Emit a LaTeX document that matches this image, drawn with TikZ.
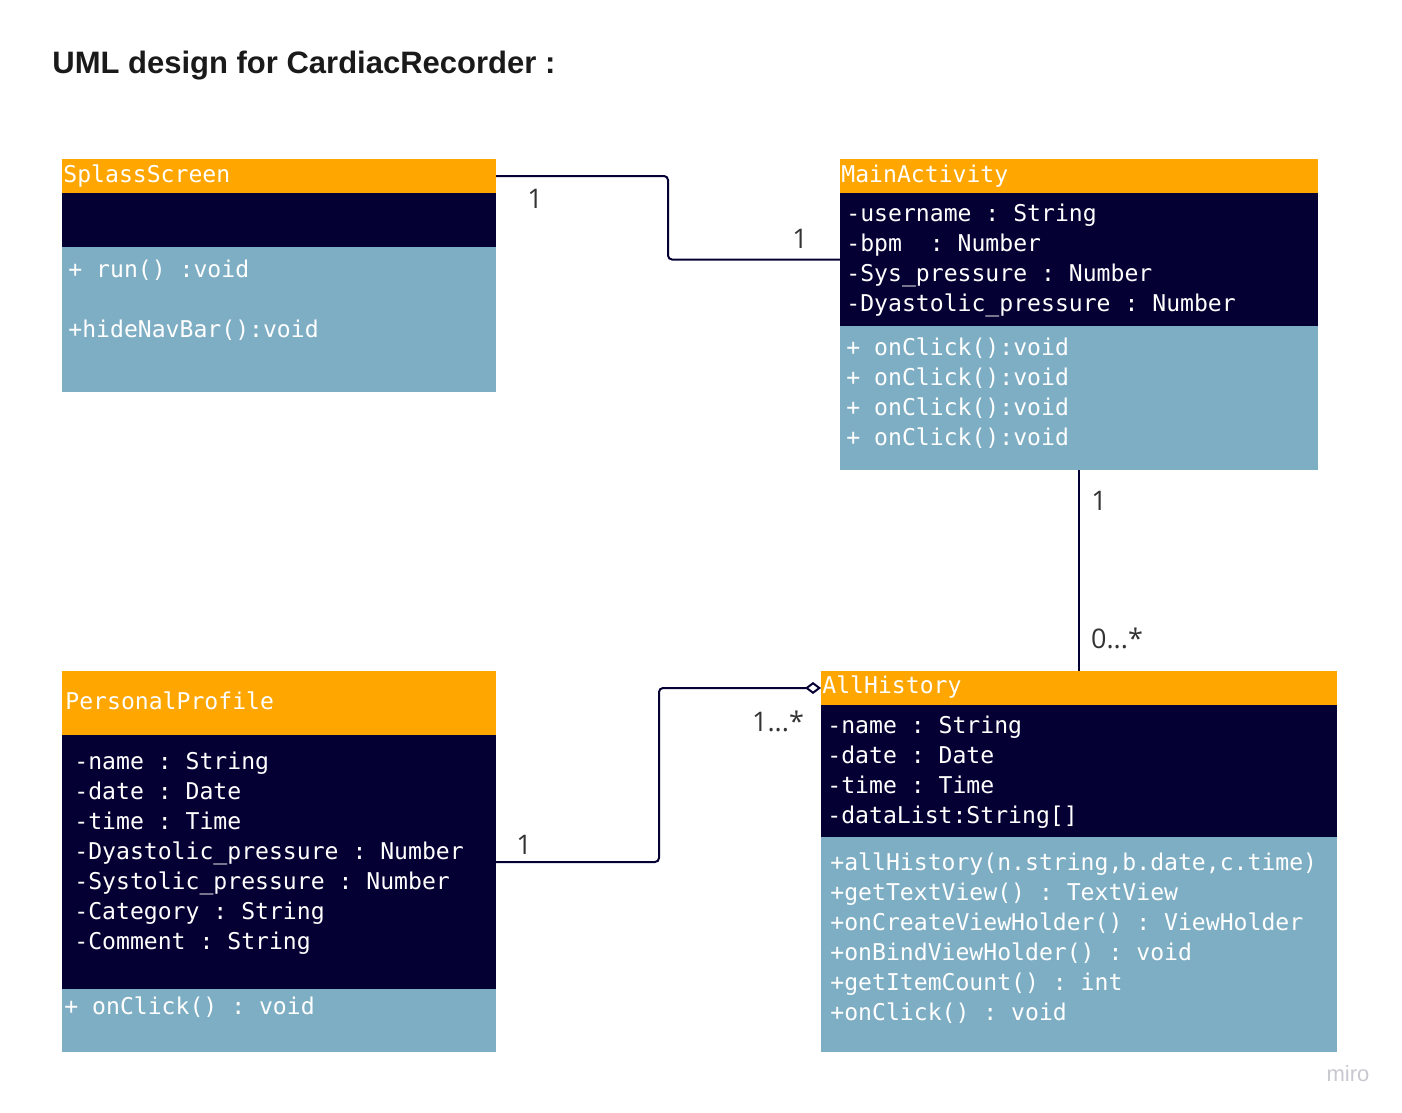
\documentclass[tikz,border=0pt]{standalone}
\usepackage{fontspec}
\setmainfont{Liberation Sans}
\setmonofont{DejaVu Sans Mono}
\newfontfamily\multfont{Open Sans}
\usetikzlibrary{positioning,arrows.meta}
\definecolor{hdrorange}{RGB}{255,166,0}
\definecolor{navy}{RGB}{5,0,51}
\definecolor{paleblue}{RGB}{126,174,196}
\definecolor{multgray}{RGB}{51,51,51}
\tikzset{
  part/.style={draw=none,inner sep=0pt,outer sep=0pt,anchor=north west},
  hdr/.style={part,fill=hdrorange},
  attrbox/.style={part,fill=navy},
  opsbox/.style={part,fill=paleblue},
  mono/.style={inner sep=0pt,text=white,align=left,font=\ttfamily\fontsize{11.55}{15}\selectfont},
  mult/.style={inner sep=0pt,text=multgray,font=\multfont\fontsize{13.5}{16}\selectfont},
  conn/.style={draw=navy,line width=1pt,rounded corners=2pt}
}
\begin{document}
\begin{tikzpicture}[x=0.5pt,y=0.5pt,yscale=-1,xscale=1]
    \path[use as bounding box] (0,0) rectangle (1402,1113);

    % Title
    \node[anchor=west,inner sep=0pt,text={rgb,255:red,26;green,26;blue,26},font=\bfseries\fontsize{15.5}{18}\selectfont] (title) at (52,66) {UML design for CardiacRecorder :};

    %Shape: Class SplassScreen
    \node[hdr,minimum width=217pt,minimum height=17pt] (ssHdr) at (62,159) {};
    \node[attrbox,minimum width=217pt,minimum height=27pt,below=0pt of ssHdr] (ssAttr) {};
    \node[opsbox,minimum width=217pt,minimum height=72.5pt,below=0pt of ssAttr] (ssOps) {};
    % Text Node
    \node[mono,anchor=west] (ssName) at (63,176) {SplassScreen};
    \node[mono,anchor=north west] (ssOpsTxt) at (68,260) {+ run() :void\\[15pt]+hideNavBar():void};

    %Shape: Class MainActivity
    \node[hdr,minimum width=239pt,minimum height=17pt] (maHdr) at (840,159) {};
    \node[attrbox,minimum width=239pt,minimum height=66.5pt,below=0pt of maHdr] (maAttr) {};
    \node[opsbox,minimum width=239pt,minimum height=72pt,below=0pt of maAttr] (maOps) {};
    % Text Node
    \node[mono,anchor=west] (maName) at (841,176) {MainActivity};
    \node[mono,anchor=north west] (maAttrTxt) at (846,204) {-username : String\\-bpm~ : Number\\-Sys\_pressure : Number\\-Dyastolic\_pressure : Number};
    \node[mono,anchor=north west] (maOpsTxt) at (846,337) {+ onClick():void\\+ onClick():void\\+ onClick():void\\+ onClick():void};

    %Shape: Class PersonalProfile
    \node[hdr,minimum width=217pt,minimum height=32pt] (ppHdr) at (62,671) {};
    \node[attrbox,minimum width=217pt,minimum height=127pt,below=0pt of ppHdr] (ppAttr) {};
    \node[opsbox,minimum width=217pt,minimum height=31.5pt,below=0pt of ppAttr] (ppOps) {};
    % Text Node
    \node[mono,anchor=west] (ppName) at (65,701) {PersonalProfile};
    \node[mono,anchor=north west] (ppAttrTxt) at (74,752) {-name : String\\-date : Date\\-time : Time\\-Dyastolic\_pressure : Number\\-Systolic\_pressure : Number\\-Category : String\\-Comment : String};
    \node[mono,anchor=north west] (ppOpsTxt) at (64,996) {+ onClick() : void};

    %Shape: Class AllHistory
    \node[hdr,minimum width=258pt,minimum height=17pt] (ahHdr) at (821,671) {};
    \node[attrbox,minimum width=258pt,minimum height=66pt,below=0pt of ahHdr] (ahAttr) {};
    \node[opsbox,minimum width=258pt,minimum height=107.5pt,below=0pt of ahAttr] (ahOps) {};
    % Text Node
    \node[mono,anchor=west] (ahName) at (822,687) {AllHistory};
    \node[mono,anchor=north west] (ahAttrTxt) at (827,716) {-name : String\\-date : Date\\-time : Time\\-dataList:String[]};
    \node[mono,anchor=north west] (ahOpsTxt) at (830,852) {+allHistory(n.string,b.date,c.time)\\+getTextView() : TextView\\+onCreateViewHolder() : ViewHolder\\+onBindViewHolder() : void\\+getItemCount() : int\\+onClick() : void};

    %Connectors
    \draw[conn] (ssHdr.east) -- ++(172,0) |- (maAttr.west);
    \draw[conn] (maOps.south) -- (maOps.south |- ahHdr.north);
    \draw[conn,-{Diamond[open,length=8pt,width=6pt,line width=1pt,fill=white]}] (ppAttr.east) -- ++(163,0) |- (ahHdr.west);

    % Multiplicities
    \node[mult] (mSsA) at (535,199) {1};
    \node[mult] (mSsB) at (800,239) {1};
    \node[mult] (mMaA) at (1099,501) {1};
    \node[mult] (mMaB) at (1117,638) {0...*};
    \node[mult] (mPpA) at (524,845) {1};
    \node[mult] (mPpB) at (778,721) {1...*};

    % miro mark
    \node[inner sep=0pt,text={rgb,255:red,200;green,200;blue,208},font=\fontsize{11}{13}\selectfont] (miro) at (1348,1074) {miro};
\end{tikzpicture}
\end{document}
